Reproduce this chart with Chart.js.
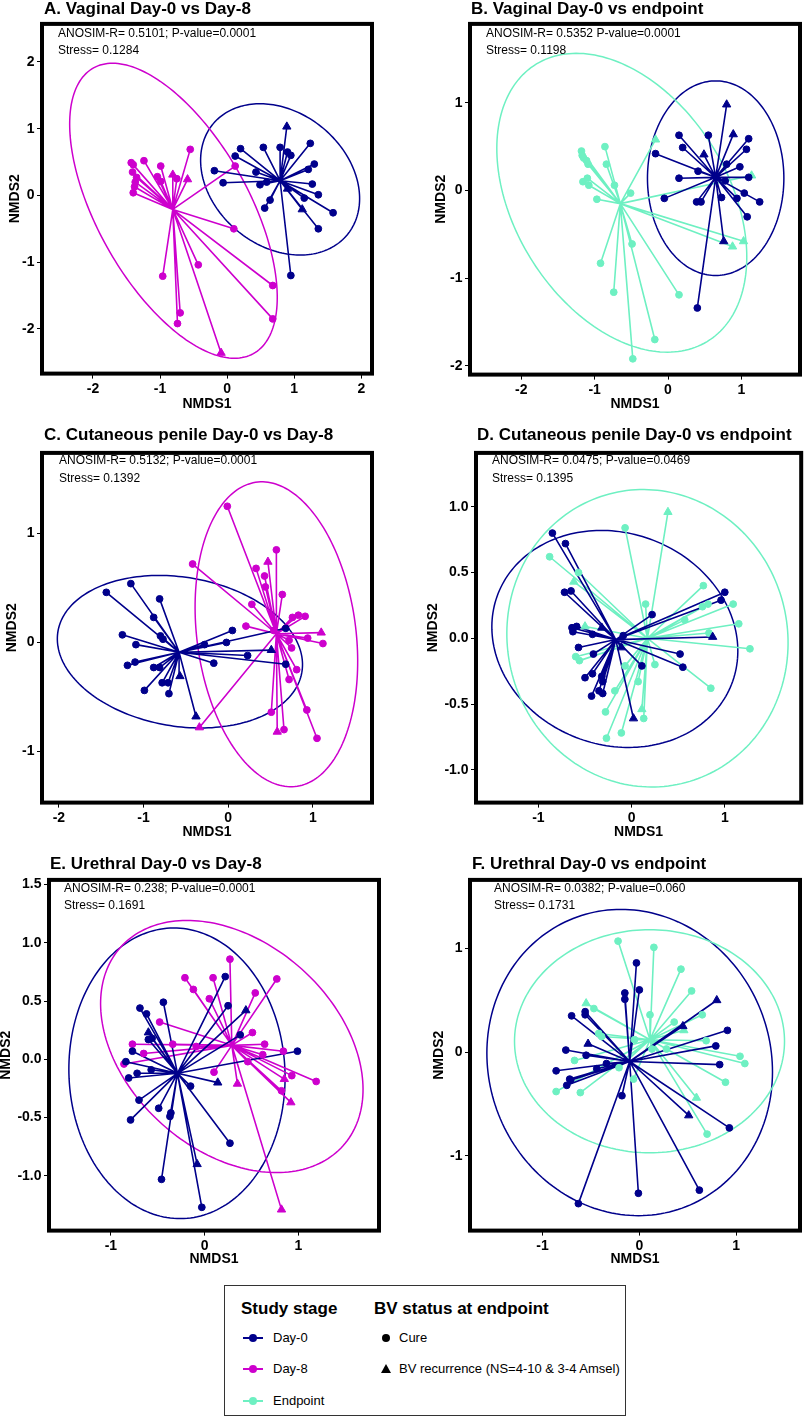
<!DOCTYPE html>
<html lang="en">
<head>
<meta charset="UTF-8">
<title>NMDS spider plots</title>
<script src="https://cdn.jsdelivr.net/npm/chart.js@4.4.1/dist/chart.umd.min.js"></script>
<style>
  html, body { margin: 0; padding: 0; background: #fff; }
  body { width: 807px; height: 1418px; position: relative; overflow: hidden;
         font-family: "Liberation Sans", Arial, Helvetica, sans-serif; color: #000; }
  canvas { position: absolute; }
  .ttl { position: absolute; font-size: 17px; font-weight: bold; line-height: 17px; white-space: nowrap; }
  .ann { position: absolute; font-size: 12px; line-height: 12px; white-space: nowrap; z-index: 2; }
  #legend { position: absolute; left: 224px; top: 1285px; width: 402px; height: 131px;
            border: 1px solid #333; box-sizing: border-box; }
  #legend .hd { position: absolute; top: 14px; font-size: 17px; font-weight: bold; line-height: 17px; white-space: nowrap; }
  #legend .it { position: absolute; font-size: 13px; line-height: 16px; white-space: nowrap; }
  #legend .ln { position: absolute; width: 20px; height: 2px; }
  #legend .dt { position: absolute; width: 8px; height: 8px; border-radius: 50%; }
  #legend .tri { position: absolute; width: 0; height: 0; border-left: 5px solid transparent;
                 border-right: 5px solid transparent; border-bottom: 9px solid #000; }
</style>
</head>
<body>

<script>
// colours of the study stages
const DAY0 = '#00008B';
const DAY8 = '#CD00CD';
const ENDP = '#6EF0C2';

const panelTitles = [
  'A. Vaginal Day-0 vs Day-8', 'B. Vaginal Day-0 vs endpoint',
  'C. Cutaneous penile Day-0 vs Day-8', 'D. Cutaneous penile Day-0 vs endpoint',
  'E. Urethral Day-0 vs Day-8', 'F. Urethral Day-0 vs endpoint'
];
const anosimLines = [
  'ANOSIM-R= 0.5101; P-value=0.0001', 'ANOSIM-R= 0.5352 P-value=0.0001',
  'ANOSIM-R= 0.5132; P-value=0.0001', 'ANOSIM-R= 0.0475; P-value=0.0469',
  'ANOSIM-R= 0.238; P-value=0.0001', 'ANOSIM-R= 0.0382; P-value=0.060'
];
const stressLines = ['Stress= 0.1284', 'Stress= 0.1198', 'Stress= 0.1392',
                     'Stress= 0.1395', 'Stress= 0.1691', 'Stress= 0.1731'];

// samples: [NMDS1, NMDS2, BV status]  status 0 = cure, 1 = BV recurrence
const aDay0 = [[0.89,1.03,1],[1.24,0.78,0],[0.54,0.72,0],[0.79,0.72,0],[0.20,0.70,0],[0.12,0.59,0],[0.90,0.65,0],[0.95,0.60,0],[1.30,0.47,0],[1.21,0.39,0],[-0.19,0.37,0],[0.43,0.35,0],[-0.06,0.19,0],[0.49,0.16,0],[0.59,0.20,0],[1.27,0.17,0],[0.90,0.10,1],[1.36,0.01,0],[1.15,-0.04,0],[0.64,-0.07,0],[0.56,-0.19,0],[1.12,-0.21,1],[1.58,-0.26,0],[1.36,-0.50,0],[0.95,-1.20,0]];
const aDay8 = [[-0.55,0.69,0],[-1.24,0.52,0],[-1.43,0.49,0],[-1.40,0.46,0],[-0.99,0.44,0],[-1.41,0.35,0],[-0.81,0.31,1],[-0.75,0.25,0],[-0.59,0.24,1],[-1.04,0.28,0],[-1.35,0.27,0],[-1.37,0.20,0],[-0.99,0.21,0],[-1.38,0.13,0],[-1.40,0.04,0],[0.12,0.44,0],[0.10,-0.50,0],[-0.43,-1.04,0],[-0.96,-1.21,0],[0.68,-1.35,0],[-0.70,-1.76,0],[-0.74,-1.92,0],[0.68,-1.85,0],[-0.09,-2.36,1]];
const bDay0 = [[0.80,0.98,1],[0.89,0.64,1],[0.15,0.63,0],[0.55,0.63,0],[1.10,0.59,0],[0.20,0.49,0],[1.07,0.47,0],[-0.17,0.42,0],[0.49,0.41,1],[0.80,0.30,0],[0.98,0.27,0],[0.41,0.22,0],[0.15,0.14,0],[1.10,0.15,0],[0.78,0.11,0],[1.04,-0.03,0],[-0.05,-0.09,0],[0.39,-0.13,0],[0.45,-0.13,0],[0.73,-0.08,0],[0.94,-0.09,0],[1.25,-0.13,0],[1.08,-0.30,0],[0.76,-0.58,1],[0.40,-1.34,0]];
const bEndp = [[-0.17,0.58,1],[-0.86,0.50,0],[-1.18,0.45,0],[-1.17,0.40,0],[-1.15,0.37,0],[-1.11,0.34,0],[-1.09,0.30,0],[-0.84,0.30,0],[-1.10,0.14,0],[-1.16,0.10,0],[-1.08,0.06,0],[-0.73,0.06,0],[-0.51,-0.03,0],[-0.97,-0.10,0],[1.14,0.17,1],[0.88,-0.64,1],[1.03,-0.58,1],[-0.49,-0.61,0],[-0.92,-0.83,0],[-0.74,-1.16,0],[0.15,-1.19,0],[-0.18,-1.70,0],[-0.48,-1.92,0]];
const cDay0 = [[-1.15,0.54,0],[-1.44,0.46,0],[-0.81,0.40,0],[-0.88,0.23,0],[-1.25,0.07,0],[-0.80,0.06,0],[-0.77,0.03,0],[0.05,0.11,0],[-1.09,-0.02,0],[-0.28,-0.02,0],[-0.02,0.00,0],[0.68,0.13,0],[0.51,-0.07,1],[0.23,-0.12,0],[-0.17,-0.19,0],[0.68,-0.20,0],[-1.10,-0.18,0],[-1.19,-0.21,0],[-0.88,-0.23,0],[-0.81,-0.23,0],[-0.57,-0.31,1],[-0.78,-0.37,0],[-0.71,-0.37,0],[-0.99,-0.44,0],[-0.70,-0.47,0],[-0.38,-0.68,1]];
const cDay8 = [[-0.01,1.25,0],[0.57,0.85,0],[-0.42,0.72,0],[0.33,0.68,0],[0.47,0.74,1],[0.43,0.61,0],[0.44,0.51,0],[0.64,0.44,0],[0.28,0.35,0],[0.76,0.23,0],[0.83,0.25,0],[0.91,0.24,0],[0.21,0.15,0],[0.54,0.11,0],[1.10,0.09,1],[0.72,0.02,0],[0.94,0.04,0],[1.12,-0.01,0],[0.75,-0.05,0],[0.81,-0.25,0],[0.72,-0.34,0],[0.51,-0.64,0],[0.93,-0.62,0],[0.58,-0.82,1],[0.66,-0.80,0],[1.05,-0.88,0],[-0.34,-0.78,1]];
const dDay0 = [[-0.85,0.80,0],[-0.71,0.72,0],[-0.72,0.35,0],[-0.65,0.36,0],[1.00,0.35,0],[0.96,0.29,0],[0.22,0.18,0],[-0.64,0.08,0],[-0.59,0.09,0],[-0.63,0.05,0],[-0.32,0.08,1],[-0.42,0.03,0],[-0.09,0.02,0],[0.87,0.01,1],[-0.57,-0.07,0],[-0.11,-0.07,1],[-0.41,-0.12,0],[0.52,-0.12,0],[0.11,-0.21,0],[0.55,-0.22,0],[-0.42,-0.27,0],[-0.50,-0.30,0],[-0.32,-0.29,0],[-0.31,-0.33,0],[-0.35,-0.40,0],[-0.31,-0.42,0],[-0.43,-0.44,0],[0.02,-0.61,1]];
const dEndp = [[-0.88,0.62,0],[-0.07,0.84,0],[0.39,0.96,1],[-0.57,0.50,0],[-0.62,0.43,1],[0.77,0.40,0],[0.15,0.26,0],[0.76,0.24,0],[0.82,0.26,0],[1.09,0.26,0],[0.57,0.14,0],[1.15,0.11,0],[-0.50,0.09,1],[0.83,0.04,0],[1.27,-0.08,0],[-0.60,-0.14,0],[-0.56,-0.17,0],[-0.07,-0.21,0],[0.25,-0.20,0],[0.07,-0.33,0],[0.85,-0.38,0],[-0.18,-0.40,0],[0.11,-0.54,1],[-0.28,-0.56,0],[0.13,-0.61,0],[-0.11,-0.72,0],[-0.27,-0.76,0]];
const eDay0 = [[0.22,0.71,0],[0.25,0.46,0],[0.44,0.42,1],[-0.44,0.49,0],[-0.69,0.44,0],[-0.62,0.39,0],[-0.60,0.23,1],[-0.60,0.17,0],[-0.56,0.18,0],[0.38,0.21,0],[-0.77,0.07,0],[0.99,0.07,0],[-0.84,-0.02,0],[-0.57,-0.09,0],[-0.72,-0.12,0],[-0.81,-0.16,0],[0.14,-0.20,1],[-0.15,-0.23,0],[-0.70,-0.35,0],[-0.49,-0.42,0],[-0.36,-0.46,0],[-0.37,-0.49,0],[-0.79,-0.52,0],[0.27,-0.72,0],[-0.08,-0.90,1],[-0.46,-1.03,0],[-0.03,-1.27,0]];
const eDay8 = [[0.27,0.86,0],[-0.21,0.70,0],[0.09,0.70,0],[0.77,0.69,0],[-0.12,0.60,0],[0.54,0.57,0],[0.05,0.52,0],[-0.48,0.32,0],[0.51,0.23,0],[-0.77,0.13,0],[-0.34,0.13,0],[-0.09,0.11,0],[0.64,0.13,0],[-0.65,0.05,0],[0.84,0.07,0],[0.62,0.04,0],[-0.86,-0.04,0],[0.46,-0.02,0],[0.10,-0.11,0],[0.93,-0.14,0],[1.19,-0.19,0],[0.35,-0.21,1],[0.85,-0.17,1],[0.82,-0.27,0],[0.92,-0.37,1],[0.82,-1.29,1]];
const fDay0 = [[-0.03,0.86,0],[-0.15,0.57,0],[0.00,0.60,0],[-0.15,0.51,0],[0.80,0.50,1],[-0.70,0.35,0],[-0.56,0.39,0],[-0.56,0.36,0],[0.45,0.25,1],[0.91,0.21,0],[-0.53,0.08,1],[0.79,0.06,0],[-0.76,0.02,0],[-0.55,-0.03,0],[-0.34,-0.11,0],[0.83,-0.12,0],[-0.44,-0.16,0],[-0.86,-0.18,0],[-0.72,-0.26,0],[-0.71,-0.27,0],[-0.75,-0.32,0],[-0.18,-0.42,0],[0.51,-0.61,1],[0.93,-0.73,0],[0.62,-1.33,0],[-0.01,-1.36,0],[-0.63,-1.46,0]];
const fEndp = [[-0.22,1.07,0],[0.15,1.01,0],[0.43,0.80,0],[0.54,0.59,0],[-0.55,0.47,1],[-0.47,0.42,0],[0.11,0.36,0],[0.65,0.36,0],[0.36,0.29,0],[0.46,0.21,1],[-0.42,0.18,0],[-0.39,0.15,0],[-0.05,0.12,0],[0.69,0.11,0],[0.13,0.03,0],[0.28,0.03,0],[1.04,-0.04,0],[1.09,-0.11,0],[-0.67,-0.08,0],[-0.21,-0.15,0],[-0.06,-0.26,0],[0.89,-0.29,0],[-0.86,-0.38,0],[-0.61,-0.39,0],[0.59,-0.44,1],[0.70,-0.79,0]];

// group centroids [NMDS1, NMDS2]
const aDay0Centre = [0.79, 0.22],  aDay8Centre = [-0.81, -0.21];
const bDay0Centre = [0.65, 0.15],  bEndpCentre = [-0.65, -0.15];
const cDay0Centre = [-0.58, -0.09], cDay8Centre = [0.57, 0.08];
const dDay0Centre = [-0.17, -0.01], dEndpCentre = [0.17, 0.00];
const eDay0Centre = [-0.29, -0.12], eDay8Centre = [0.29, 0.12];
const fDay0Centre = [-0.10, -0.09], fEndpCentre = [0.11, 0.12];

// ellipses [centre x, centre y, semi-axis a, semi-axis b, rotation deg]
const aDay0Ell = [0.79, 0.24, 1.30, 1.00, -40],   aDay8Ell = [-0.80, -0.23, 2.45, 1.13, -60.9];
const bDay0Ell = [0.65, 0.14, 0.93, 1.11, 0],     bEndpEll = [-0.63, -0.14, 1.99, 1.36, -45];
const cDay0Ell = [-0.57, -0.085, 1.455, 0.687, -6], cDay8Ell = [0.57, 0.075, 1.418, 0.933, -77.6];
const dDay0Ell = [-0.18, -0.005, 1.325, 0.817, -6.4], dEndpEll = [0.17, 0.0, 1.51, 1.13, -3];
const eDay0Ell = [-0.295, -0.12, 1.25, 1.15, 100], eDay8Ell = [0.29, 0.11, 1.488, 0.957, -26.3];
const fDay0Ell = [-0.10, -0.10, 1.52, 1.43, -45], fEndpEll = [0.105, 0.105, 1.395, 1.075, 0];

// tick values
const aXTicks = [-2, -1, 0, 1, 2], aYTicks = [-2, -1, 0, 1, 2];
const bXTicks = [-2, -1, 0, 1],    bYTicks = [-2, -1, 0, 1];
const cXTicks = [-2, -1, 0, 1],    cYTicks = [-1, 0, 1];
const dXTicks = [-1, 0, 1],        dYTicks = [-1, -0.5, 0, 0.5, 1];
const eXTicks = [-1, 0, 1],        eYTicks = [-1, -0.5, 0, 0.5, 1, 1.5];
const fXTicks = [-1, 0, 1],        fYTicks = [-1, 0, 1];

// axis limits
const aLim = {x: [-2.76, 2.16], y: [-2.67, 2.57]};
const bLim = {x: [-2.70, 1.80], y: [-2.10, 1.90]};
const cLim = {x: [-2.20, 1.70], y: [-1.47, 1.74]};
const dLim = {x: [-1.67, 1.82], y: [-1.25, 1.41]};
const eLim = {x: [-1.66, 1.86], y: [-1.47, 1.54]};
const fLim = {x: [-1.75, 1.66], y: [-1.72, 1.66]};

// page layout: box = plot frame [left, top, right, bottom], ytx = centre of NMDS2, xty = centre of NMDS1
const panels = [
  {box: [42, 23, 372, 374],  cl: 0,   cw: 404, ytx: 15,  xty: 405,  lim: aLim, xt: aXTicks, yt: aYTicks, ydec: 0,
   tx: 44,  ax: 58,  groups: [[aDay0, aDay0Centre, aDay0Ell, DAY0], [aDay8, aDay8Centre, aDay8Ell, DAY8]]},
  {box: [470, 23, 800, 375], cl: 404, cw: 403, ytx: 441, xty: 405,  lim: bLim, xt: bXTicks, yt: bYTicks, ydec: 0,
   tx: 471, ax: 486, groups: [[bDay0, bDay0Centre, bDay0Ell, DAY0], [bEndp, bEndpCentre, bEndpEll, ENDP]]},
  {box: [42, 452, 372, 803], cl: 0,   cw: 404, ytx: 12,  xty: 833,  lim: cLim, xt: cXTicks, yt: cYTicks, ydec: 0,
   tx: 44,  ax: 59,  groups: [[cDay0, cDay0Centre, cDay0Ell, DAY0], [cDay8, cDay8Centre, cDay8Ell, DAY8]]},
  {box: [476, 452, 804, 803], cl: 404, cw: 403, ytx: 433, xty: 833, lim: dLim, xt: dXTicks, yt: dYTicks, ydec: 1,
   tx: 477, ax: 492, groups: [[dDay0, dDay0Centre, dDay0Ell, DAY0], [dEndp, dEndpCentre, dEndpEll, ENDP]]},
  {box: [49, 879, 379, 1231], cl: -4, cw: 408, ytx: 6,   xty: 1260, lim: eLim, xt: eXTicks, yt: eYTicks, ydec: 1,
   tx: 50,  ax: 64,  groups: [[eDay0, eDay0Centre, eDay0Ell, DAY0], [eDay8, eDay8Centre, eDay8Ell, DAY8]]},
  {box: [470, 879, 800, 1231], cl: 404, cw: 403, ytx: 439, xty: 1260, lim: fLim, xt: fXTicks, yt: fYTicks, ydec: 0,
   tx: 472, ax: 494, groups: [[fDay0, fDay0Centre, fDay0Ell, DAY0], [fEndp, fEndpCentre, fEndpEll, ENDP]]}
];

Chart.defaults.font.family = '"Liberation Sans", Arial, Helvetica, sans-serif';
Chart.defaults.color = '#000';

// ellipses under the data, heavy frame on top
const framePlugin = {
  id: 'frame',
  beforeDatasetsDraw(chart, args, opts) {
    const {ctx, chartArea: a, scales: {x, y}} = chart;
    ctx.save();
    ctx.beginPath();
    ctx.rect(a.left, a.top, a.right - a.left, a.bottom - a.top);
    ctx.clip();
    opts.ellipses.forEach(([p, color]) => {
      const [cx, cy, ra, rb, deg] = p;
      const th = deg * Math.PI / 180;
      ctx.beginPath();
      for (let i = 0; i <= 200; i++) {
        const t = i / 200 * 2 * Math.PI;
        const dx = ra * Math.cos(t), dy = rb * Math.sin(t);
        const px = x.getPixelForValue(cx + dx * Math.cos(th) - dy * Math.sin(th));
        const py = y.getPixelForValue(cy + dx * Math.sin(th) + dy * Math.cos(th));
        if (i === 0) ctx.moveTo(px, py); else ctx.lineTo(px, py);
      }
      ctx.strokeStyle = color;
      ctx.lineWidth = 1.5;
      ctx.stroke();
    });
    ctx.restore();
  },
  afterDraw(chart) {
    const {ctx, chartArea: a} = chart;
    ctx.save();
    ctx.strokeStyle = '#000';
    ctx.lineWidth = 4;
    ctx.strokeRect(a.left, a.top, a.right - a.left, a.bottom - a.top);
    ctx.restore();
  }
};

function addText(cls, text, left, top) {
  const d = document.createElement('div');
  d.className = cls;
  d.textContent = text;
  d.style.left = left + 'px';
  d.style.top = top + 'px';
  document.body.appendChild(d);
}

const titleTops = [-0.5, -0.5, 425.8, 425.8, 855, 855];
const annTops = [26.7, 26.7, 454.4, 454.4, 881.7, 881.7];

panels.forEach((p, k) => {
  const [bl, bt, br, bb] = p.box;
  const top = bt - 10;
  const bottom = p.xty + 8.4;
  const padLeft = p.ytx - 8.4 - p.cl;
  const cv = document.createElement('canvas');
  cv.width = p.cw;
  cv.height = Math.round(bottom - top);
  cv.style.left = p.cl + 'px';
  cv.style.top = top + 'px';
  cv.style.width = p.cw + 'px';
  cv.style.height = cv.height + 'px';
  document.body.appendChild(cv);

  addText('ttl', panelTitles[k], p.tx, titleTops[k]);
  addText('ann', anosimLines[k], p.ax, annTops[k]);
  addText('ann', stressLines[k], p.ax, annTops[k] + 17.7);

  const datasets = [];
  const ellipses = [];
  p.groups.forEach(([pts, c, ell, color]) => {
    ellipses.push([ell, color]);
    datasets.push({
      type: 'line',
      data: pts.flatMap(s => [{x: s[0], y: s[1]}, {x: c[0], y: c[1]}, {x: null, y: null}]),
      borderColor: color, borderWidth: 1.6, pointRadius: 0, fill: false,
      spanGaps: false, tension: 0, order: 2
    });
    datasets.push({
      type: 'scatter',
      data: pts.map(s => ({x: s[0], y: s[1]})),
      pointStyle: pts.map(s => s[2] ? 'triangle' : 'circle'),
      pointRadius: pts.map(s => s[2] ? 4.8 : 3.4),
      backgroundColor: color, borderColor: color, borderWidth: 1, order: 1
    });
  });

  const xfmt = v => Number(v).toFixed(0);
  const yfmt = v => Number(v).toFixed(p.ydec);
  const tickFont = {size: 14, weight: 'bold'};
  const titleFont = {size: 14, weight: 'bold', lineHeight: 1.2};

  new Chart(cv, {
    type: 'scatter',
    data: {datasets},
    options: {
      responsive: false,
      animation: false,
      events: [],
      layout: {padding: {top: 10, right: p.cl + p.cw - br, left: padLeft, bottom: 0}},
      plugins: {legend: {display: false}, tooltip: {enabled: false}, frame: {ellipses}},
      scales: {
        x: {
          type: 'linear', min: p.lim.x[0], max: p.lim.x[1],
          afterBuildTicks: s => { s.ticks = p.xt.map(v => ({value: v})); },
          afterFit: s => { s.height = bottom - bb; },
          grid: {drawOnChartArea: false, drawTicks: true, tickLength: 5, color: '#000', lineWidth: 1},
          border: {display: false},
          ticks: {font: tickFont, color: '#000', padding: 2, maxRotation: 0, autoSkip: false, callback: xfmt},
          title: {display: true, text: 'NMDS1', font: titleFont, color: '#000', padding: 0}
        },
        y: {
          type: 'linear', min: p.lim.y[0], max: p.lim.y[1],
          afterBuildTicks: s => { s.ticks = p.yt.map(v => ({value: v})); },
          afterFit: s => { s.width = bl - (p.cl + padLeft); },
          grid: {drawOnChartArea: false, drawTicks: true, tickLength: 5, color: '#000', lineWidth: 1},
          border: {display: false},
          ticks: {font: tickFont, color: '#000', padding: 2.5, autoSkip: false, callback: yfmt},
          title: {display: true, text: 'NMDS2', font: titleFont, color: '#000', padding: 0}
        }
      }
    },
    plugins: [framePlugin]
  });
});
</script>

<div id="legend">
  <div class="hd" style="left:16px;">Study stage</div>
  <div class="hd" style="left:149px;">BV status at endpoint</div>

  <div class="ln" style="left:18px;top:51px;background:#00008B;"></div>
  <div class="dt" style="left:24px;top:48px;background:#00008B;"></div>
  <div class="it" style="left:48px;top:44px;">Day-0</div>

  <div class="ln" style="left:18px;top:82px;background:#CD00CD;"></div>
  <div class="dt" style="left:24px;top:79px;background:#CD00CD;"></div>
  <div class="it" style="left:48px;top:75px;">Day-8</div>

  <div class="ln" style="left:18px;top:114px;background:#6EF0C2;"></div>
  <div class="dt" style="left:24px;top:111px;background:#6EF0C2;"></div>
  <div class="it" style="left:48px;top:107px;">Endpoint</div>

  <div class="dt" style="left:157px;top:48px;background:#000;"></div>
  <div class="it" style="left:174px;top:44px;">Cure</div>

  <div class="tri" style="left:156px;top:78px;"></div>
  <div class="it" style="left:174px;top:75px;">BV recurrence (NS=4-10 &amp; 3-4 Amsel)</div>
</div>

</body>
</html>
